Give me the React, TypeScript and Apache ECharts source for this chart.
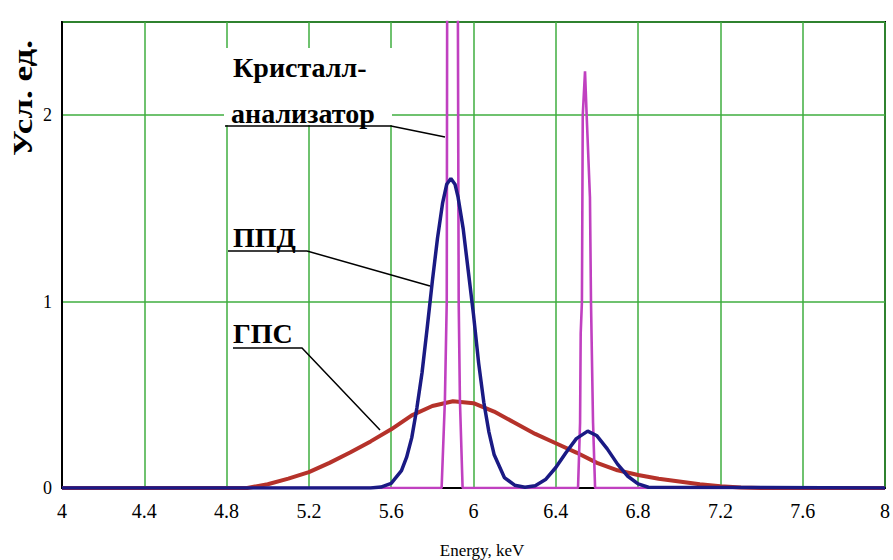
import React, { useEffect, useRef } from "react";
import * as echarts from "echarts";

// ---- data ----
const xTickLabels = ["4", "4.4", "4.8", "5.2", "5.6", "6", "6.4", "6.8", "7.2", "7.6", "8"];
const yTickLabels = ["0", "1", "2"];

// ГПС (gas proportional counter) – broad red line
const gpsEnergy = [4.0, 4.9, 5.0, 5.1, 5.2, 5.3, 5.4, 5.5, 5.6, 5.7, 5.8, 5.9, 6.0, 6.1, 6.2, 6.3, 6.4, 6.5, 6.6, 6.7, 6.8, 6.9, 7.0, 7.1, 7.2, 7.3, 7.4, 8.0];
const gpsValue = [0, 0, 0.02, 0.05, 0.085, 0.135, 0.19, 0.25, 0.315, 0.39, 0.44, 0.465, 0.455, 0.41, 0.35, 0.29, 0.24, 0.19, 0.135, 0.095, 0.07, 0.05, 0.035, 0.02, 0.01, 0.003, 0, 0];

// ППД (semiconductor detector) – blue line
const ppdEnergy = [4.0, 5.5, 5.55, 5.6, 5.65, 5.675, 5.7, 5.725, 5.75, 5.775, 5.8, 5.825, 5.85, 5.87, 5.89, 5.91, 5.925, 5.95, 5.975, 6.0, 6.025, 6.05, 6.075, 6.1, 6.15, 6.2, 6.25, 6.3, 6.35, 6.4, 6.45, 6.5, 6.555, 6.6, 6.65, 6.7, 6.75, 6.8, 6.85, 8.0];
const ppdValue = [0, 0, 0.005, 0.025, 0.093, 0.165, 0.27, 0.43, 0.62, 0.86, 1.11, 1.34, 1.53, 1.63, 1.66, 1.63, 1.56, 1.39, 1.16, 0.93, 0.67, 0.46, 0.3, 0.18, 0.056, 0.015, 0.004, 0.012, 0.045, 0.11, 0.19, 0.265, 0.305, 0.28, 0.21, 0.128, 0.063, 0.022, 0.004, 0];

// Кристалл-анализатор – narrow magenta lines
const crystalEnergy = [4.0, 5.845, 5.861, 5.87, 5.872, 5.898, 5.924, 5.928, 5.934, 5.947, 6.508, 6.518, 6.521, 6.527, 6.531, 6.542, 6.55, 6.566, 6.571, 6.581, 6.591, 8.0];
const crystalValue = [0, 0, 0.47, 1.0, 2.6, 3.4, 2.6, 1.0, 0.47, 0, 0, 0.35, 0.83, 1.0, 2.0, 2.235, 2.0, 1.56, 1.0, 0.35, 0, 0];

const pairs = (xs: number[], ys: number[]) => xs.map((x, i) => [x, ys[i]]);

const SERIF = '"Liberation Serif", serif';

export default function App() {
  const ref = useRef<HTMLDivElement>(null);

  useEffect(() => {
    if (!ref.current) return;
    const chart = echarts.init(ref.current, null, { renderer: "svg" });
    const grid = "#3fae3f";
    const labelText = (text: string, x: number, y: number) => ({
      type: "text",
      x,
      y,
      z: 100,
      style: {
        text,
        fill: "#000",
        font: 'bold 28px "Liberation Serif", serif',
        align: "left",
        verticalAlign: "middle",
      },
    });
    const leader = (points: number[][]) => ({
      type: "polyline",
      z: 100,
      shape: { points },
      style: { stroke: "#000", lineWidth: 1.5, fill: null },
    });

    chart.setOption({
      animation: false,
      backgroundColor: "#fff",
      textStyle: { fontFamily: SERIF },
      grid: {
        left: 62,
        right: 8,
        top: 22,
        bottom: 72,
        show: true,
        borderColor: "#000",
        borderWidth: 2,
        backgroundColor: "transparent",
      },
      xAxis: {
        type: "value",
        min: 4,
        max: 8,
        interval: 0.4,
        axisLine: { show: true, onZero: false, lineStyle: { color: "#000", width: 2 } },
        axisTick: { show: false },
        axisLabel: {
          color: "#000",
          fontSize: 20,
          fontFamily: SERIF,
          margin: 13,
          formatter: (v: number) => xTickLabels[Math.round((v - 4) / 0.4)] ?? "",
        },
        splitLine: { show: true, lineStyle: { color: grid, width: 1.5 } },
      },
      yAxis: {
        type: "value",
        min: 0,
        max: 2.5,
        interval: 1,
        axisLine: { show: true, lineStyle: { color: "#000", width: 2 } },
        axisTick: { show: false },
        axisLabel: {
          color: "#000",
          fontSize: 18,
          fontFamily: SERIF,
          margin: 10,
          padding: [12, 0, 0, 0],
          showMaxLabel: false,
          formatter: (v: number) => (Number.isInteger(v) ? yTickLabels[v] ?? "" : ""),
        },
        splitLine: { show: true, lineStyle: { color: grid, width: 1.5 } },
      },
      series: [
        {
          name: "ГПС",
          type: "line",
          data: pairs(gpsEnergy, gpsValue),
          showSymbol: false,
          lineStyle: { color: "#b5322a", width: 4 },
          z: 2,
        },
        {
          name: "Кристалл-анализатор",
          type: "line",
          data: pairs(crystalEnergy, crystalValue),
          showSymbol: false,
          lineStyle: { color: "#c040c0", width: 2.6 },
          z: 3,
        },
        {
          name: "ППД",
          type: "line",
          data: pairs(ppdEnergy, ppdValue),
          showSymbol: false,
          lineStyle: { color: "#1a1a84", width: 3.5 },
          z: 4,
        },
      ],
      graphic: [
        {
          type: "rect",
          z: 90,
          shape: { x: 224, y: 48, width: 168, height: 77 },
          style: { fill: "#fff" },
        },
        labelText("Кристалл-", 233, 67),
        labelText("анализатор", 231, 113),
        leader([[225, 126], [391, 126], [445, 137]]),
        labelText("ППД", 233, 237),
        leader([[228, 251], [307, 251], [430, 286]]),
        labelText("ГПС", 233, 333),
        leader([[233, 348], [302, 348], [380, 430]]),
        {
          type: "text",
          x: 23,
          y: 98,
          rotation: Math.PI / 2,
          scaleX: 1.25,
          z: 100,
          style: {
            text: "Усл. ед.",
            fill: "#000",
            font: 'bold 28px "Liberation Serif", serif',
            align: "center",
            verticalAlign: "middle",
          },
        },
        {
          type: "text",
          x: 482,
          y: 550,
          z: 100,
          style: {
            text: "Energy, keV",
            fill: "#000",
            font: '17px "Liberation Serif", serif',
            align: "center",
            verticalAlign: "middle",
          },
        },
      ],
    });
    return () => chart.dispose();
  }, []);

  return (
    <div
      ref={ref}
      style={{ position: "fixed", left: 0, top: 0, width: 893, height: 560, background: "#fff" }}
    />
  );
}
